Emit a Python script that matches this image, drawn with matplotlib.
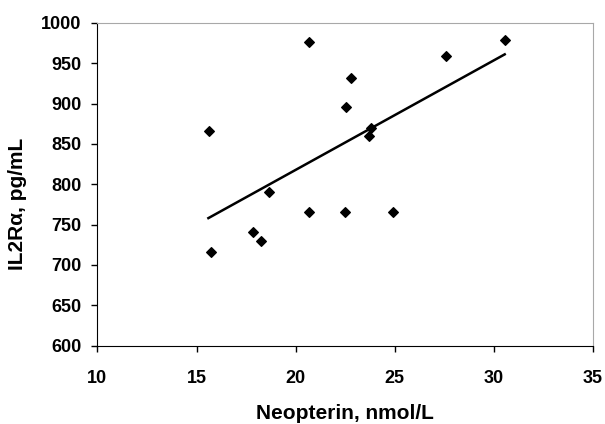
import matplotlib.pyplot as plt

plt.rcParams['font.family'] = ['Liberation Sans', 'DejaVu Sans']
plt.rcParams['font.weight'] = 'bold'

# Data
neopterin = [15.65, 15.71, 17.84, 18.27, 18.68, 20.66, 20.66, 22.50,
             22.54, 22.79, 23.78, 23.72, 24.93, 27.57, 30.55]
il2ra = [866, 716, 741, 730, 790, 976, 766, 765,
         896, 932, 870, 860, 766, 959, 979]

# Trend line ends
trend_x = [15.6, 30.55]
trend_y = [758, 961]

x_ticks = [10, 15, 20, 25, 30, 35]
y_ticks = [600, 650, 700, 750, 800, 850, 900, 950, 1000]

fig = plt.figure(figsize=(6.05, 4.24), dpi=100)
ax = fig.add_axes([0.161, 0.185, 0.819, 0.761])

ax.scatter(neopterin, il2ra, marker='D', s=24, color='black', zorder=3)
ax.plot(trend_x, trend_y, color='black', linewidth=1.8)

ax.set_xlim(10, 35)
ax.set_ylim(600, 1000)
ax.set_xticks(x_ticks)
ax.set_yticks(y_ticks)

for side in ['top', 'right']:
    ax.spines[side].set_color('#a8a8a8')
for side in ['left', 'bottom']:
    ax.spines[side].set_color('black')
ax.tick_params(axis='both', direction='out', length=4.5, width=1, labelsize=13)
ax.tick_params(axis='x', pad=13)
ax.tick_params(axis='y', pad=7)

ax.set_xlabel('Neopterin, nmol/L', fontsize=15, fontweight='bold', labelpad=12)
ax.set_ylabel('IL2R\u03b1, pg/mL', fontsize=15, fontweight='bold')
ax.yaxis.set_label_coords(-0.143, 0.44)

fig.savefig('out.png', dpi=100)
